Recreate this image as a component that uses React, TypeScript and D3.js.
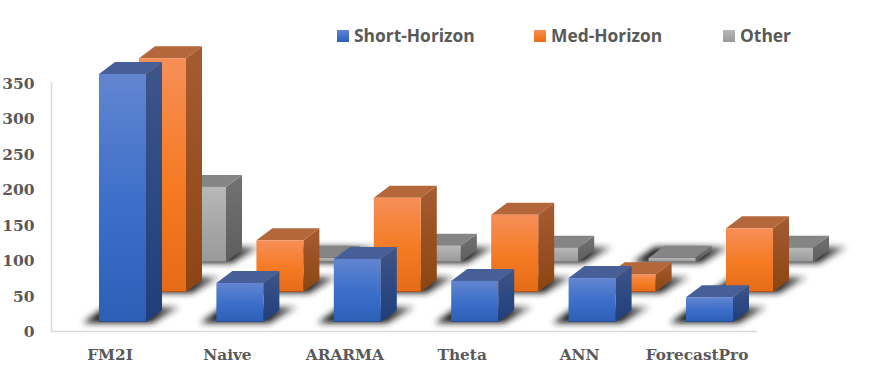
import React from 'react';
import * as d3 from 'd3';

const WIDTH = 869;
const HEIGHT = 375;

const categories = ['FM2I', 'Naive', 'ARARMA', 'Theta', 'ANN', 'ForecastPro'];
const seriesNames = ['Short-Horizon', 'Med-Horizon', 'Other'];
const shortHorizon = [350, 55, 89, 58, 62, 35];
const medHorizon = [330, 73, 133, 109, 25, 90];
const other = [106, 6, 23, 20, 6, 20];
const tickValues = [0, 50, 100, 150, 200, 250, 300, 350];

const frontStops = [
  ['#6285d0', '#3a6ec9', '#2d5fb6'],
  ['#f68f58', '#f57a22', '#e46b18'],
  ['#b8b8b8', '#a6a6a6', '#9a9a9a'],
];
const sideStops = [
  ['#3d5589', '#1f3e7c'],
  ['#a55c33', '#8c4511'],
  ['#727272', '#5e5e5e'],
];
const topFill = ['#475f98', '#b4673b', '#858585'];
const legendX = [337, 534, 723];

const BAR_W = 47;
const DEPTH_X = 16;
const DEPTH_Y = 12;

const xCat = d3.scalePoint<string>().domain(categories).range([99, 686]);
// each series sits further back and further to the right
const seriesX = d3.scaleLinear().domain([0, 2]).range([0, 80]);
const seriesBase = d3.scaleLinear().domain([0, 2]).range([322, 262]);
const barH = d3.scaleLinear().domain([0, 350]).range([0, 248]);
const yAxis = d3.scaleLinear().domain([0, 350]).range([331, 83]);

const line = d3.line();

function Bar({ cat, s, value }: { cat: string; s: number; value: number }) {
  const x = (xCat(cat) as number) + seriesX(s);
  const base = seriesBase(s);
  const top = base - barH(value);
  const right = x + BAR_W;
  return (
    <g>
      <path
        d={line([[right, top], [right + DEPTH_X, top - DEPTH_Y], [right + DEPTH_X, base - DEPTH_Y], [right, base]]) + 'Z'}
        fill={`url(#side${s})`}
      />
      <path
        d={line([[x, top], [x + DEPTH_X, top - DEPTH_Y], [right + DEPTH_X, top - DEPTH_Y], [right, top]]) + 'Z'}
        fill={topFill[s]}
      />
      <rect x={x} y={top} width={BAR_W} height={base - top} fill={`url(#front${s}-${cat})`} />
      <rect x={x} y={base - 1} width={BAR_W} height={1} fill="#000" opacity={0.2} />
    </g>
  );
}

function Shadow({ cat, s }: { cat: string; s: number }) {
  const x = (xCat(cat) as number) + seriesX(s);
  const base = seriesBase(s);
  return (
    <path
      d={line([[x - 16, base + 1], [x + BAR_W + 6, base + 1], [x + BAR_W + 34, base - 15], [x + 6, base - 15]]) + 'Z'}
      fill="url(#shadowFade)"
      filter="url(#blur)"
    />
  );
}

export default function App() {
  const series = [shortHorizon, medHorizon, other];
  const order = [2, 1, 0];
  return (
    <svg
      xmlns="http://www.w3.org/2000/svg"
      width={WIDTH}
      height={HEIGHT}
      viewBox={`0 0 ${WIDTH} ${HEIGHT}`}
      style={{ position: 'absolute', left: 0, top: 0, background: '#fff' }}
    >
      <defs>
        <filter id="blur" x="-30%" y="-100%" width="160%" height="300%">
          <feGaussianBlur stdDeviation="3" />
        </filter>
        <linearGradient id="shadowFade" x1={0} x2={1} y1={0} y2={0}>
          <stop offset="0" stopColor="#1c1c1c" />
          <stop offset="0.7" stopColor="#1c1c1c" />
          <stop offset="1" stopColor="#1c1c1c" stopOpacity={0.45} />
        </linearGradient>
        {series.map((vals, s) =>
          categories.map((cat, i) => {
            const base = seriesBase(s);
            const top = base - barH(vals[i]);
            return (
              <linearGradient key={cat} id={`front${s}-${cat}`} gradientUnits="userSpaceOnUse" x1={0} x2={0} y1={top} y2={base}>
                <stop offset="0" stopColor={frontStops[s][0]} />
                <stop offset="0.55" stopColor={frontStops[s][1]} />
                <stop offset="1" stopColor={frontStops[s][2]} />
              </linearGradient>
            );
          })
        )}
        {sideStops.map((c, s) => (
          <linearGradient key={s} id={`side${s}`} x1={0} x2={0} y1={0} y2={1}>
            <stop offset="0" stopColor={c[0]} />
            <stop offset="1" stopColor={c[1]} />
          </linearGradient>
        ))}
        {frontStops.map((c, s) => (
          <linearGradient key={s} id={`legend${s}`} x1={0} x2={0} y1={0} y2={1}>
            <stop offset="0" stopColor={c[0]} />
            <stop offset="0.6" stopColor={c[1]} />
            <stop offset="1" stopColor={c[2]} />
          </linearGradient>
        ))}
      </defs>

      <path d="M51.5,82V331.5H757" fill="none" stroke="#d9d9d9" strokeWidth={1.5} />

      {tickValues.map(t => (
        <text
          key={t}
          x={34.5}
          y={yAxis(t) + 6}
          textAnchor="end"
          fontFamily="'DejaVu Serif'"
          fontWeight="bold"
          fontSize={15.5}
          fill="#595959"
        >
          {t}
        </text>
      ))}

      {categories.map(cat => (
        <text
          key={cat}
          x={(xCat(cat) as number) + 11}
          y={360}
          textAnchor="middle"
          fontFamily="'DejaVu Serif'"
          fontWeight="bold"
          fontSize={15.3}
          fill="#595959"
        >
          {cat}
        </text>
      ))}

      {order.map(s => (
        <g key={s}>
          {categories.map((cat, i) => (
            <g key={cat}>
              <Shadow cat={cat} s={s} />
              <Bar cat={cat} s={s} value={series[s][i]} />
            </g>
          ))}
        </g>
      ))}

      {seriesNames.map((name, s) => (
        <g key={name}>
          <rect x={legendX[s]} y={30} width={12} height={12} fill={`url(#legend${s})`} />
          <text
            x={legendX[s] + 17}
            y={41.5}
            fontFamily="'Open Sans'"
            fontWeight="bold"
            fontSize={17.4}
            fill="#595959"
          >
            {name}
          </text>
        </g>
      ))}
    </svg>
  );
}
